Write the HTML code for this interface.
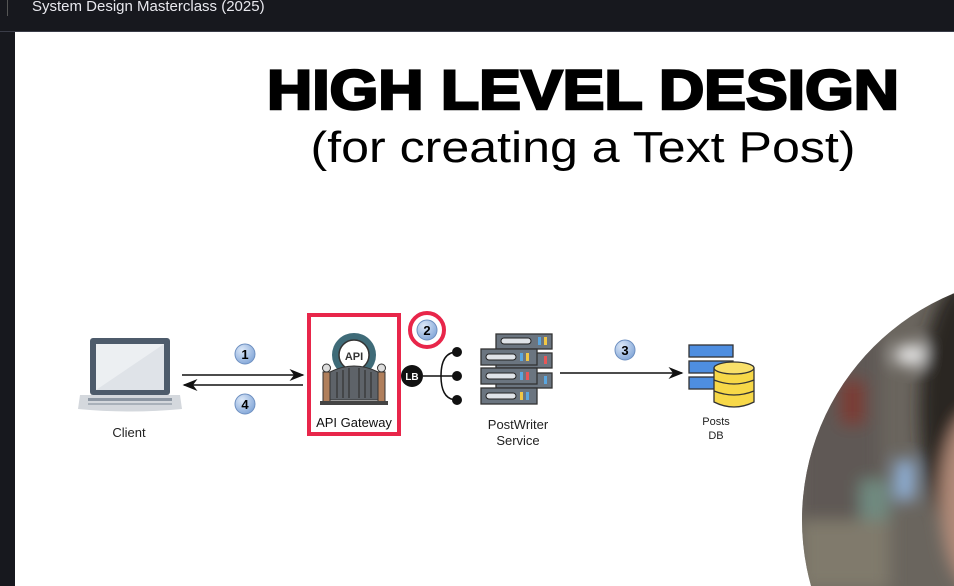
<!DOCTYPE html>
<html><head><meta charset="utf-8"><style>
html,body{margin:0;padding:0;background:#fff;}
body{width:954px;height:586px;overflow:hidden;position:relative;font-family:"Liberation Sans",sans-serif;}
</style></head><body>
<svg width="954" height="586" viewBox="0 0 954 586" xmlns="http://www.w3.org/2000/svg" style="position:absolute;left:0;top:0">
<defs>
<radialGradient id="bub" cx="0.35" cy="0.3" r="0.8"><stop offset="0" stop-color="#dce8f8"/><stop offset="1" stop-color="#7ea3d6"/></radialGradient>
<filter id="bl"><feGaussianBlur stdDeviation="8"/></filter>
<clipPath id="cc"><circle cx="1047" cy="520" r="245"/></clipPath>
<marker id="ah" markerWidth="10" markerHeight="8" refX="9" refY="4" orient="auto"><path d="M0,0 L10,4 L0,8 L3,4Z" fill="#111"/></marker>
</defs>
<rect x="0" y="0" width="954" height="32" fill="#17181e"/>
<rect x="0" y="32" width="15" height="554" fill="#17181e"/>
<rect x="0" y="31" width="954" height="1" fill="#3a3c48"/>
<rect x="7" y="0" width="1" height="16" fill="#555"/>
<text x="32" y="11" fill="#e8e8ee" font-size="15">System Design Masterclass (2025)</text>

<text x="583" y="109" text-anchor="middle" font-size="56" font-weight="bold" fill="#000" stroke="#000" stroke-width="2.5" textLength="632" lengthAdjust="spacingAndGlyphs">HIGH LEVEL DESIGN</text>
<text x="583" y="162" text-anchor="middle" font-size="44" fill="#000" textLength="545" lengthAdjust="spacingAndGlyphs">(for creating a Text Post)</text>

<!-- laptop -->
<rect x="90" y="338" width="80" height="57" rx="3" fill="#4d5b6b"/>
<rect x="96" y="344" width="68" height="46" fill="#dfe3e8"/>
<path d="M96,344 L164,344 L96,390Z" fill="#eceff2"/>
<path d="M80,395 L180,395 L182,409 Q130,414 78,409Z" fill="#d4d8dd"/>
<rect x="88" y="398" width="84" height="3" fill="#8d97a3"/>
<rect x="88" y="403" width="84" height="2" fill="#a9b1ba"/>
<text x="129" y="437" text-anchor="middle" font-size="13" fill="#222">Client</text>

<!-- arrows 1/4 -->
<line x1="182" y1="375" x2="303" y2="375" stroke="#111" stroke-width="1.5" marker-end="url(#ah)"/>
<line x1="303" y1="385" x2="184" y2="385" stroke="#111" stroke-width="1.5" marker-end="url(#ah)"/>
<circle cx="245" cy="354" r="10" fill="url(#bub)" stroke="#6d8fc0"/>
<text x="245" y="359" text-anchor="middle" font-size="13" font-weight="bold">1</text>
<circle cx="245" cy="404" r="10" fill="url(#bub)" stroke="#6d8fc0"/>
<text x="245" y="409" text-anchor="middle" font-size="13" font-weight="bold">4</text>

<!-- API gateway -->
<rect x="309" y="315" width="90" height="119" fill="#fff" stroke="#e8264a" stroke-width="4"/>
<circle cx="354" cy="355" r="22" fill="#3f6b78"/>
<circle cx="354" cy="355" r="15" fill="#fff" stroke="#333" stroke-width="1.5"/>
<text x="354" y="360" text-anchor="middle" font-size="11" font-weight="bold" fill="#333">API</text>
<path d="M330,372 Q354,360 378,372 L378,400 L330,400Z" fill="#5e6369" stroke="#333"/>
<g stroke="#333" stroke-width="1.2"><line x1="337" y1="372" x2="337" y2="398"/><line x1="343" y1="370" x2="343" y2="398"/><line x1="349" y1="368" x2="349" y2="398"/><line x1="359" y1="368" x2="359" y2="398"/><line x1="365" y1="370" x2="365" y2="398"/><line x1="371" y1="372" x2="371" y2="398"/></g>
<rect x="323" y="372" width="7" height="30" fill="#b07f5c" stroke="#333"/>
<rect x="378" y="372" width="7" height="30" fill="#b07f5c" stroke="#333"/>
<circle cx="326.5" cy="368" r="4" fill="#ddd" stroke="#333"/><circle cx="381.5" cy="368" r="4" fill="#ddd" stroke="#333"/>
<rect x="320" y="401" width="68" height="4" fill="#444"/>
<text x="354" y="427" text-anchor="middle" font-size="13" fill="#111">API Gateway</text>

<!-- 2 -->
<circle cx="427" cy="330" r="17" fill="#fff" stroke="#e8264a" stroke-width="4"/>
<circle cx="427" cy="330" r="10" fill="url(#bub)" stroke="#6d8fc0"/>
<text x="427" y="335" text-anchor="middle" font-size="13" font-weight="bold">2</text>

<!-- LB -->
<circle cx="412" cy="376" r="11" fill="#111"/>
<text x="412" y="380" text-anchor="middle" font-size="10" font-weight="bold" fill="#fff">LB</text>
<path d="M423,376 L457,376 M441,376 Q441,352 457,352 M441,376 Q441,400 457,400" fill="none" stroke="#111" stroke-width="1.5"/>
<circle cx="457" cy="352" r="5" fill="#111"/><circle cx="457" cy="376" r="5" fill="#111"/><circle cx="457" cy="400" r="5" fill="#111"/>

<!-- servers -->
<g stroke="#333" stroke-width="1.3">
<rect x="496" y="334" width="56" height="15" fill="#6b7580"/>
<rect x="496" y="353" width="56" height="15" fill="#6b7580"/>
<rect x="496" y="373" width="56" height="15" fill="#6b7580"/>
<rect x="481" y="349" width="56" height="16" fill="#6b7580"/>
<rect x="481" y="368" width="56" height="16" fill="#6b7580"/>
<rect x="481" y="388" width="56" height="16" fill="#6b7580"/>
</g>
<g fill="#dfe3e8" stroke="#222"><rect x="486" y="354" width="30" height="6" rx="3"/><rect x="486" y="373" width="30" height="6" rx="3"/><rect x="486" y="393" width="30" height="6" rx="3"/><rect x="501" y="338" width="30" height="6" rx="3"/></g>
<g><rect x="520" y="353" width="3" height="8" fill="#5aa7e0"/><rect x="526" y="353" width="3" height="8" fill="#f2c744"/><rect x="520" y="372" width="3" height="8" fill="#5aa7e0"/><rect x="526" y="372" width="3" height="8" fill="#e85656"/><rect x="520" y="392" width="3" height="8" fill="#f2c744"/><rect x="526" y="392" width="3" height="8" fill="#5aa7e0"/><rect x="538" y="337" width="3" height="8" fill="#5aa7e0"/><rect x="544" y="337" width="3" height="8" fill="#f2c744"/><rect x="544" y="356" width="3" height="8" fill="#e85656"/><rect x="544" y="376" width="3" height="8" fill="#5aa7e0"/></g>
<text x="518" y="429" text-anchor="middle" font-size="13" fill="#222">PostWriter</text>
<text x="518" y="445" text-anchor="middle" font-size="13" fill="#222">Service</text>

<!-- arrow 3 -->
<line x1="560" y1="373" x2="682" y2="373" stroke="#111" stroke-width="1.5" marker-end="url(#ah)"/>
<circle cx="625" cy="350" r="10" fill="url(#bub)" stroke="#6d8fc0"/>
<text x="625" y="355" text-anchor="middle" font-size="13" font-weight="bold">3</text>

<!-- DB -->
<g stroke="#333" stroke-width="1.3" fill="#4e8ee0">
<rect x="689" y="345" width="44" height="12"/><rect x="689" y="361" width="44" height="12"/><rect x="689" y="377" width="44" height="12"/>
</g>
<path d="M714,368 L714,402 Q734,412 754,402 L754,368Z" fill="#f7d848" stroke="#333" stroke-width="1.3"/>
<ellipse cx="734" cy="368" rx="20" ry="6" fill="#f9e06a" stroke="#333" stroke-width="1.3"/>
<path d="M714,380 Q734,388 754,380 M714,391 Q734,399 754,391" fill="none" stroke="#333" stroke-width="1.3"/>
<text x="716" y="425" text-anchor="middle" font-size="11" fill="#222">Posts</text>
<text x="716" y="439" text-anchor="middle" font-size="11" fill="#222">DB</text>

<!-- photo -->
<g clip-path="url(#cc)">
<rect x="790" y="270" width="170" height="320" fill="#6a655e"/>
<g filter="url(#bl)">
<rect x="800" y="300" width="80" height="290" fill="#5e5954"/>
<ellipse cx="915" cy="355" rx="22" ry="10" fill="#f0f0f0"/>
<rect x="840" y="380" width="25" height="45" fill="#7a3a30"/>
<rect x="895" y="460" width="20" height="40" fill="#8fb0d8"/>
<rect x="860" y="480" width="30" height="60" fill="#6f8a80"/>
<rect x="800" y="520" width="90" height="70" fill="#807a6c"/>
<ellipse cx="965" cy="410" rx="45" ry="130" fill="#2a2522"/>
<ellipse cx="975" cy="500" rx="35" ry="90" fill="#b08a78"/>
</g>
</g>
</svg>
</body></html>
